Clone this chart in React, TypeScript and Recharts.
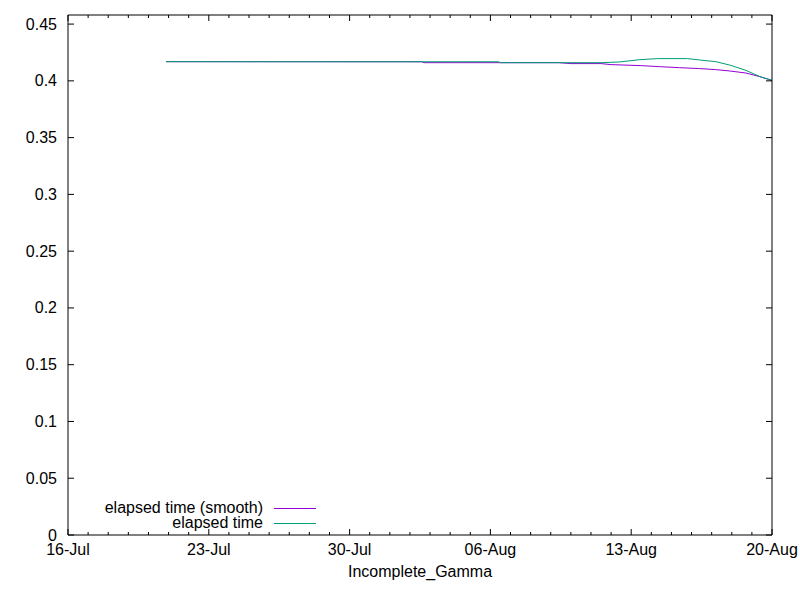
import React from "react";
import { LineChart, Line, XAxis, YAxis, Legend } from "recharts";

// Days since 16-Jul
const elapsedDays = [4.87, 21.4, 21.5, 26.5, 27.4, 28.4, 29.3, 30.8, 31.4, 32.2, 32.9, 33.7, 34.4, 35.0];
const elapsedValues = [0.4169, 0.4168, 0.416, 0.416, 0.4166, 0.4186, 0.4196, 0.4196, 0.4184, 0.4169, 0.4139, 0.4093, 0.4037, 0.4004];

const smoothDays = [4.87, 17.6, 17.7, 24.4, 25.0, 26.5, 27.0, 28.5, 29.4, 30.4, 31.4, 32.2, 32.9, 33.7, 34.4, 35.0];
const smoothValues = [0.4169, 0.4168, 0.416, 0.416, 0.4152, 0.4152, 0.4143, 0.4134, 0.4125, 0.4116, 0.4108, 0.4099, 0.4087, 0.4069, 0.4037, 0.4004];

const majorDays = [0, 7, 14, 21, 28, 35];
const xTickLabels = ["16-Jul", "23-Jul", "30-Jul", "06-Aug", "13-Aug", "20-Aug"];
const dayTicks = Array.from({ length: 36 }, (_, i) => i);

const yTicks = [0, 0.05, 0.1, 0.15, 0.2, 0.25, 0.3, 0.35, 0.4, 0.45];
const yTickLabels = ["0", "0.05", "0.1", "0.15", "0.2", "0.25", "0.3", "0.35", "0.4", "0.45"];

const seriesNames = ["elapsed time (smooth)", "elapsed time"];
const seriesColors = ["#9400d3", "#009e73"];

const elapsedData = elapsedDays.map((d, i) => ({ d, v: elapsedValues[i] }));
const smoothData = smoothDays.map((d, i) => ({ d, v: smoothValues[i] }));

const FONT = "'Liberation Sans', Arial, sans-serif";

const BottomTick = (props: any) => {
  const { x, y, payload } = props;
  const idx = majorDays.indexOf(payload.value);
  const major = idx >= 0;
  return (
    <g>
      <line x1={x} x2={x} y1={y} y2={y - (major ? 6 : 3)} stroke="#000" strokeWidth={1} />
      {major && (
        <text x={x} y={y + 20} textAnchor="middle" fontFamily={FONT} fontSize={16} fill="#000">
          {xTickLabels[idx]}
        </text>
      )}
    </g>
  );
};

const TopTick = (props: any) => {
  const { x, y, payload } = props;
  const major = majorDays.indexOf(payload.value) >= 0;
  return <line x1={x} x2={x} y1={y} y2={y + (major ? 6 : 3)} stroke="#000" strokeWidth={1} />;
};

const LeftTick = (props: any) => {
  const { x, y, payload } = props;
  const idx = yTicks.indexOf(payload.value);
  return (
    <g>
      <line x1={x} x2={x + 6} y1={y} y2={y} stroke="#000" strokeWidth={1} />
      <text x={x - 11} y={y + 5.5} textAnchor="end" fontFamily={FONT} fontSize={16} fill="#000">
        {yTickLabels[idx]}
      </text>
    </g>
  );
};

const RightTick = (props: any) => {
  const { x, y } = props;
  return <line x1={x} x2={x - 6} y1={y} y2={y} stroke="#000" strokeWidth={1} />;
};

const LegendContent = () => (
  <svg width={800} height={600} style={{ position: "absolute", left: 0, top: 0 }}>
    {seriesNames.map((name, i) => (
      <g key={name}>
        <text x={263} y={513 + i * 15} textAnchor="end" fontFamily={FONT} fontSize={16} fill="#000">
          {name}
        </text>
        <line x1={274} x2={316} y1={508.5 + i * 15} y2={508.5 + i * 15} stroke={seriesColors[i]} strokeWidth={1} />
      </g>
    ))}
  </svg>
);

export default function App() {
  return (
    <div style={{ position: "fixed", left: 0, top: 0, width: 800, height: 600, background: "#fff" }}>
      <LineChart width={800} height={600} margin={{ top: 0, right: 0, bottom: 0, left: 0 }}>
        <XAxis
          xAxisId="main"
          dataKey="d"
          type="number"
          domain={[0, 35]}
          ticks={dayTicks}
          interval={0}
          orientation="bottom"
          height={65}
          tickSize={0}
          tickMargin={0}
          tickLine={false}
          axisLine={{ stroke: "#000", strokeWidth: 1 }}
          tick={<BottomTick />}
          allowDataOverflow
          label={(p: any) => {
            const vb = p.viewBox || { x: 68, y: 535, width: 704 };
            return (
              <text x={vb.x + vb.width / 2} y={vb.y + 42} textAnchor="middle" fontFamily={FONT} fontSize={16} fill="#000">
                Incomplete_Gamma
              </text>
            );
          }}
        />
        <XAxis
          xAxisId="top"
          dataKey="d"
          type="number"
          domain={[0, 35]}
          ticks={dayTicks}
          interval={0}
          orientation="top"
          height={15}
          tickSize={0}
          tickMargin={0}
          tickLine={false}
          axisLine={{ stroke: "#000", strokeWidth: 1 }}
          tick={<TopTick />}
          allowDataOverflow
        />
        <YAxis
          yAxisId="main"
          type="number"
          domain={[0, 0.458]}
          ticks={yTicks}
          interval={0}
          orientation="left"
          width={68}
          tickSize={0}
          tickMargin={0}
          tickLine={false}
          axisLine={{ stroke: "#000", strokeWidth: 1 }}
          tick={<LeftTick />}
          allowDataOverflow
        />
        <YAxis
          yAxisId="right"
          type="number"
          domain={[0, 0.458]}
          ticks={yTicks}
          interval={0}
          orientation="right"
          width={28}
          tickSize={0}
          tickMargin={0}
          tickLine={false}
          axisLine={{ stroke: "#000", strokeWidth: 1 }}
          tick={<RightTick />}
          allowDataOverflow
        />
        <Legend
          layout="horizontal"
          verticalAlign="middle"
          align="center"
          wrapperStyle={{ position: "absolute", left: 0, top: 0, width: 800, height: 600, pointerEvents: "none" }}
          content={<LegendContent />}
        />
        <Line
          xAxisId="main"
          yAxisId="main"
          data={smoothData}
          dataKey="v"
          name={seriesNames[0]}
          type="linear"
          stroke={seriesColors[0]}
          strokeWidth={1}
          dot={false}
          isAnimationActive={false}
        />
        <Line
          xAxisId="main"
          yAxisId="main"
          data={elapsedData}
          dataKey="v"
          name={seriesNames[1]}
          type="linear"
          stroke={seriesColors[1]}
          strokeWidth={1}
          dot={false}
          isAnimationActive={false}
        />
      </LineChart>
    </div>
  );
}
